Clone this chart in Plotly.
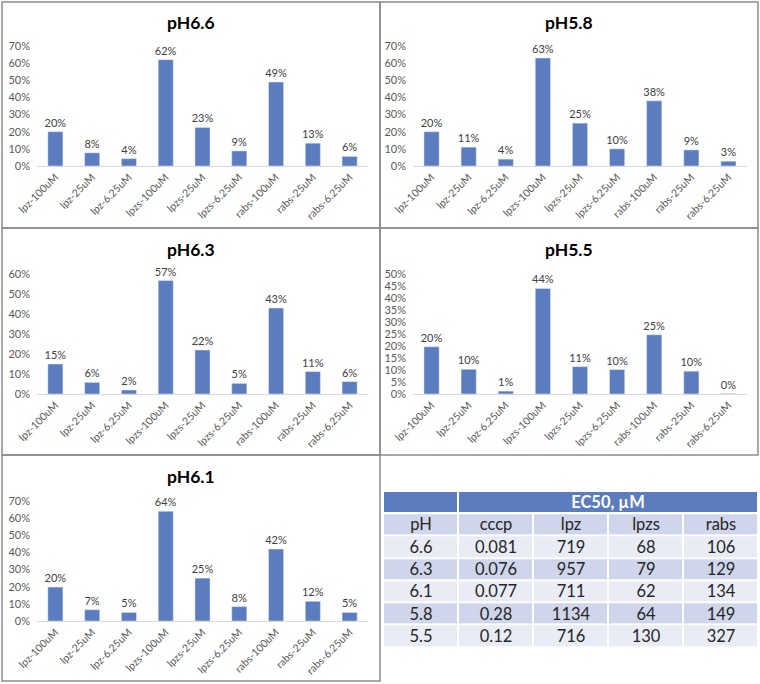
import plotly.graph_objects as go

categories = ["lpz-100uM", "lpz-25uM", "lpz-6.25uM", "lpzs-100uM", "lpzs-25uM",
              "lpzs-6.25uM", "rabs-100uM", "rabs-25uM", "rabs-6.25uM"]

ph66 = [0.20, 0.077, 0.043, 0.62, 0.225, 0.088, 0.49, 0.133, 0.056]
ph58 = [0.20, 0.11, 0.04, 0.63, 0.25, 0.10, 0.38, 0.094, 0.028]
ph63 = [0.15, 0.058, 0.02, 0.567, 0.22, 0.053, 0.43, 0.112, 0.062]
ph55 = [0.197, 0.103, 0.012, 0.44, 0.114, 0.102, 0.247, 0.095, 0.002]
ph61 = [0.198, 0.066, 0.05, 0.64, 0.25, 0.084, 0.42, 0.115, 0.05]

panel_titles = ["pH6.6", "pH5.8", "pH6.3", "pH5.5", "pH6.1"]
panel_values = [ph66, ph58, ph63, ph55, ph61]
panel_ymax = [0.7, 0.7, 0.6, 0.5, 0.7]
panel_dtick = [0.1, 0.1, 0.1, 0.05, 0.1]

table_title = "EC50, µM"
table_cols = ["pH", "cccp", "lpz", "lpzs", "rabs"]
table_ph = ["6.6", "6.3", "6.1", "5.8", "5.5"]
table_cccp = ["0.081", "0.076", "0.077", "0.28", "0.12"]
table_lpz = ["719", "957", "711", "1134", "716"]
table_lpzs = ["68", "79", "62", "64", "130"]
table_rabs = ["106", "129", "134", "149", "327"]

W, H = 760, 684
FONT = "Lato"
BAR = "#5B7DBF"
HEAD = "#5B7DBF"
DARK = "#CFD5EA"
LIGHT = "#E9EBF5"

# panel boxes in pixels (x0, y0, x1, y1)
boxes = [(2, 2, 380, 228), (380, 2, 758, 228), (2, 228, 380, 455),
         (380, 228, 758, 455), (2, 455, 380, 681)]
plot_x = [(37, 368), (413, 747), (37, 368), (413, 747), (37, 368)]
plot_top = [46, 46, 274, 274, 501]

fig = go.Figure()
annotations = []
shapes = []
for i, (title, vals) in enumerate(zip(panel_titles, panel_values)):
    bx0, by0, bx1, by1 = boxes[i]
    px0, px1 = plot_x[i]
    top = plot_top[i]
    bot = top + 120
    xa = "x" if i == 0 else f"x{i+1}"
    ya = "y" if i == 0 else f"y{i+1}"
    fig.add_trace(go.Bar(
        x=categories, y=vals, xaxis=xa, yaxis=ya,
        marker=dict(color=BAR), texttemplate="%{y:.0%}", textposition="outside",
        constraintext="none",
        textfont=dict(size=11, color="#404040", family=FONT),
        cliponaxis=False, showlegend=False, hoverinfo="x+y"))
    kx = "xaxis" if i == 0 else f"xaxis{i+1}"
    ky = "yaxis" if i == 0 else f"yaxis{i+1}"
    fig.layout[kx] = dict(domain=[px0 / W, px1 / W], anchor=ya, tickangle=-45,
                          showline=True, linecolor="#D9D9D9", linewidth=1,
                          ticks="", tickfont=dict(size=10.5, color="#595959", family=FONT),
                          showgrid=False, fixedrange=True, automargin=False)
    fig.layout[ky] = dict(domain=[1 - bot / H, 1 - top / H], anchor=xa,
                          range=[0, panel_ymax[i]], dtick=panel_dtick[i], tick0=0,
                          tickformat=".0%", showgrid=False, zeroline=False,
                          showline=False, ticks="", automargin=False,
                          ticklabelstandoff=6,
                          tickfont=dict(size=11, color="#595959", family=FONT),
                          fixedrange=True)
    annotations.append(dict(text=f"<b>{title}</b>", x=(bx0 + bx1) / 2 / W,
                            y=1 - (by0 + 21) / H, xref="paper", yref="paper",
                            showarrow=False, font=dict(size=17.5, color="#000000", family=FONT),
                            xanchor="center", yanchor="middle"))
    shapes.append(dict(type="rect", xref="paper", yref="paper",
                       x0=bx0 / W, x1=bx1 / W, y0=1 - by1 / H, y1=1 - by0 / H,
                       line=dict(color="#8C8C8C", width=1.5)))

# ---- table drawn as heatmap bricks ----
body_text = [table_cols] + [list(r) for r in zip(table_ph, table_cccp, table_lpz,
                                                  table_lpzs, table_rabs)]
nrows = len(body_text)
ncols = len(table_cols)
body_z = [[1 if r % 2 == 0 else 0] * ncols for r in range(nrows)]
fig.add_trace(go.Heatmap(
    x=list(range(ncols + 1)), y=list(range(1, nrows + 2)), z=body_z,
    text=body_text, texttemplate="%{text}",
    textfont=dict(size=16.5, color="#262626", family=FONT),
    colorscale=[[0, LIGHT], [1, DARK]], zmin=0, zmax=1, showscale=False,
    xgap=2, ygap=2, xaxis="x6", yaxis="y6", hoverinfo="skip"))
fig.add_trace(go.Heatmap(
    x=[0, 1, ncols], y=[0, 1], z=[[1, 1]],
    text=[["", table_title]], texttemplate="<b>%{text}</b>",
    textfont=dict(size=16.5, color="white", family=FONT),
    colorscale=[[0, HEAD], [1, HEAD]], zmin=0, zmax=1, showscale=False,
    xgap=2, ygap=2, xaxis="x6", yaxis="y6", hoverinfo="skip"))
fig.layout["xaxis6"] = dict(domain=[383 / W, 758 / W], anchor="y6", range=[0, ncols],
                            visible=False, fixedrange=True)
fig.layout["yaxis6"] = dict(domain=[1 - 647 / H, 1 - 491 / H], anchor="x6",
                            range=[nrows + 1, 0], visible=False, fixedrange=True)

fig.update_layout(width=W, height=H,
                  margin=dict(l=0, r=0, t=0, b=0, pad=0, autoexpand=False),
                  paper_bgcolor="white", plot_bgcolor="white",
                  bargap=0.59, annotations=annotations, shapes=shapes,
                  font=dict(family=FONT))
fig.write_html("out.html", config={"displayModeBar": False},
               post_script="document.body.style.margin='0';document.body.style.overflow='hidden';")
